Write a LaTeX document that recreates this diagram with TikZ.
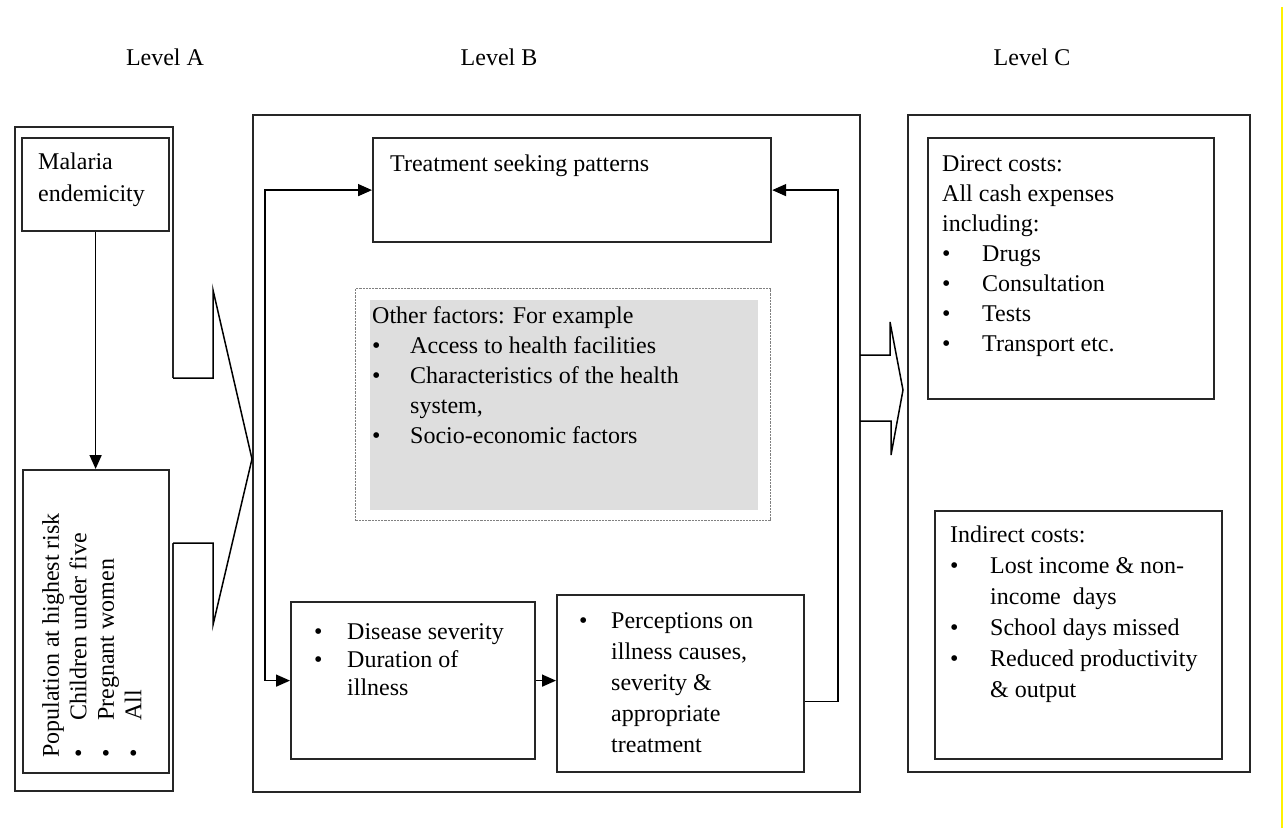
\documentclass[tikz,border=0pt]{standalone}
\usepackage{fontspec}
\setmainfont{Liberation Serif}
\usetikzlibrary{arrows.meta, positioning}

\definecolor{shade}{RGB}{222,222,222}
\newcommand{\bitem}[1][38pt]{\makebox[#1][l]{\textbullet}}
\newcommand{\bcont}[1][38pt]{\hspace*{#1}}

\begin{document}
\begin{tikzpicture}[x=1pt, y=-1pt,
    frame/.style={draw=black!85, line width=1.8pt},
    box/.style={draw=black!85, line width=2.2pt, anchor=north west, inner sep=0pt},
    txt/.style={anchor=north west, align=left, inner sep=0pt, font=\fontsize{24}{30}\selectfont},
    head/.style={font=\fontsize{24}{30}\selectfont},
    flow/.style={-{Triangle[length=14pt, width=12pt]}, line width=1.6pt},
    both/.style={{Triangle[length=14pt, width=12pt]}-{Triangle[length=14pt, width=12pt]}, line width=1.6pt},
    blockarrow/.style={line width=1.5pt}
]
    \useasboundingbox (0,0) rectangle (1285,828);

    % Headings
    \node[head] (headA) at (165,57) {Level A};
    \node[head] (headB) at (499,57) {Level B};
    \node[head] (headC) at (1032,57) {Level C};

    % Level frames
    \draw[frame] (15,127) rectangle (173,791);
    \draw[frame] (253,115) rectangle (860,792);
    \draw[frame] (908,115) rectangle (1250,772);

    % Block arrows A -> B -> C
    \fill[white] (171,378) -- (213,378) -- (213,290) -- (252,459) -- (213,625) -- (213,543) -- (171,543) -- cycle;
    \draw[blockarrow] (173,378) -- (213,378) -- (213,290) -- (252,459) -- (213,625) -- (213,543) -- (173,543);
    \draw[blockarrow] (860,355) -- (890,355) -- (890,322) -- (903,390) -- (891,455) -- (891,421) -- (860,421);

    % === Level A ===
    \node[box, minimum width=147pt, minimum height=93pt] (malaria) at (21,137) {};
    \node[txt, font=\fontsize{24}{32}\selectfont] (malariatext) at (38,153) {Malaria\\endemicity};
    \node[box, minimum width=146pt, minimum height=303pt] (pop) at (22,469) {};
    \node[txt, rotate=90, font=\fontsize{24}{27.5}\selectfont] (poptext) at (42,758)
        {Population at highest risk\\\bitem[37pt]Children under five\\\bitem[37pt]Pregnant women\\\bitem[37pt]All};
    \draw[flow] (malaria.south) -- (malaria.south |- pop.north);

    % === Level B ===
    \node[box, minimum width=398pt, minimum height=104pt] (seeking) at (372,137) {};
    \node[txt] (seekingtext) at (390,155) {Treatment seeking patterns};

    \node[box, draw=gray, densely dotted, line width=1.2pt, minimum width=415pt, minimum height=232pt] (other) at (355,288) {};
    \node[anchor=north west, fill=shade, inner sep=0pt, minimum width=388pt, minimum height=210pt] (othershade) at (370,300) {};
    \node[txt] (othertext) at (372,306)
        {Other factors: For example\\\bitem Access to health facilities\\\bitem Characteristics of the health\\\bcont system,\\\bitem Socio-economic factors};

    \node[box, minimum width=244pt, minimum height=157pt] (severity) at (290,601) {};
    \node[txt, font=\fontsize{24}{28}\selectfont] (severitytext) at (314,623)
        {\bitem[33pt]Disease severity\\\bitem[33pt]Duration of\\\bcont[33pt]illness};
    \node[box, minimum width=247pt, minimum height=177pt] (percept) at (556,594) {};
    \node[txt, font=\fontsize{24}{31}\selectfont] (percepttext) at (579,612)
        {\bitem[32pt]Perceptions on\\\bcont[32pt]illness causes,\\\bcont[32pt]severity \&\\\bcont[32pt]appropriate\\\bcont[32pt]treatment};

    \coordinate (loopL) at (265,400);
    \coordinate (loopR) at (838,400);
    \draw[both] (seeking.west) -| (loopL) |- (severity.west);
    \draw[flow] ([yshift=-18pt]percept.east) -| (loopR) |- (seeking.east);
    \draw[flow] (severity.east) -- (severity.east -| percept.west);

    % === Level C ===
    \node[box, minimum width=286pt, minimum height=261pt] (direct) at (927,137) {};
    \node[txt] (directtext) at (942,155)
        {Direct costs:\\All cash expenses\\including:\\\bitem[40pt]Drugs\\\bitem[40pt]Consultation\\\bitem[40pt]Tests\\\bitem[40pt]Transport etc.};
    \node[box, minimum width=287pt, minimum height=248pt] (indirect) at (934,510) {};
    \node[txt, font=\fontsize{24}{31}\selectfont] (indirecttext) at (950,526)
        {Indirect costs:\\\bitem[40pt]Lost income \& non-\\\bcont[40pt]income\ \ days\\\bitem[40pt]School days missed\\\bitem[40pt]Reduced productivity\\\bcont[40pt]\& output};

    % page edge
    \draw[yellow, line width=2.5pt] (1282,7) -- (1282,828);
\end{tikzpicture}
\end{document}
